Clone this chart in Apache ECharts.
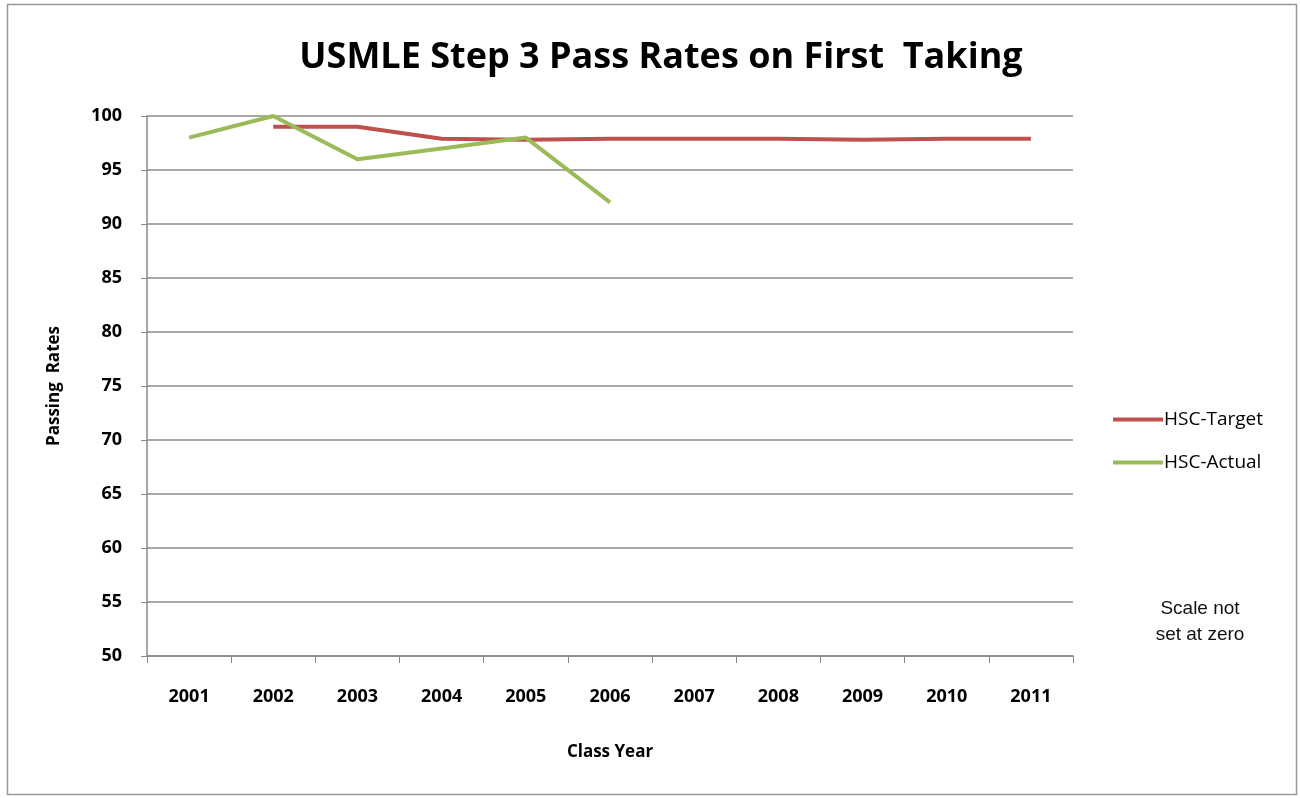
<!DOCTYPE html>
<html><head><meta charset="utf-8">
<script src="https://cdn.jsdelivr.net/npm/echarts@6/dist/echarts.min.js"></script>
<style>html,body{margin:0;padding:0;background:#fff}#c{width:1300px;height:798px}</style>
</head><body><div id="c"></div>
<script>
const years = ['2001','2002','2003','2004','2005','2006','2007','2008','2009','2010','2011'];
const target = [null, 99, 99, 97.9, 97.8, 97.9, 97.9, 97.9, 97.8, 97.9, 97.9];
const actual = [98, 100, 96, 97, 98, 92, null, null, null, null, null];
const seriesNames = ['HSC-Target', 'HSC-Actual'];
const noteLines = ['Scale not', 'set at zero'];

const chart = echarts.init(document.getElementById('c'));
const F = '"Open Sans", "DejaVu Sans", sans-serif';
chart.setOption({
  animation: false,
  backgroundColor: '#fff',
  title: {
    text: 'USMLE Step 3 Pass Rates on First  Taking',
    left: 656, top: 35, textAlign: 'center',
    textStyle: {fontFamily: F, fontSize: 36, fontWeight: 'bold', color: '#000'}
  },
  legend: {
    orient: 'vertical', left: 1108, top: 405, itemGap: 24,
    itemWidth: 50, itemHeight: 4,
    icon: 'rect',
    textStyle: {fontFamily: F, fontSize: 19, color: '#000', padding: [0,0,0,-4]},
    data: seriesNames
  },
  grid: {left: 147, right: 227, top: 116, bottom: 142},
  xAxis: {
    type: 'category', data: years, boundaryGap: true,
    name: 'Class Year', nameLocation: 'middle', nameGap: 88,
    nameTextStyle: {fontFamily: F, fontSize: 17, fontWeight: 'bold', color: '#000'},
    axisLine: {lineStyle: {color: '#888', width: 1.5}},
    axisTick: {show: true, length: 7, lineStyle: {color: '#888'}},
    axisLabel: {fontFamily: F, fontSize: 18, fontWeight: 'bold', color: '#000', margin: 32}
  },
  yAxis: {
    type: 'value', min: 50, max: 100, interval: 5,
    name: 'Passing  Rates', nameLocation: 'middle', nameGap: 84, nameRotate: 90,
    nameTextStyle: {fontFamily: F, fontSize: 17, fontWeight: 'bold', color: '#000'},
    axisLine: {show: true, lineStyle: {color: '#888', width: 1.5}},
    axisTick: {show: true, length: 6, lineStyle: {color: '#888'}},
    axisLabel: {fontFamily: F, fontSize: 18, fontWeight: 'bold', color: '#000', margin: 25},
    splitLine: {lineStyle: {color: '#8c8c8c', width: 1.5}}
  },
  series: [
    {name: seriesNames[0], type: 'line', data: target, showSymbol: false, symbol: 'none',
     lineStyle: {color: '#C0504D', width: 4}, itemStyle: {color: '#C0504D'}},
    {name: seriesNames[1], type: 'line', data: actual, showSymbol: false, symbol: 'none',
     lineStyle: {color: '#9BBB59', width: 4}, itemStyle: {color: '#9BBB59'}}
  ],
  graphic: [
    {type: 'rect', shape: {x: 7.5, y: 4.5, width: 1289, height: 790}, silent: true,
     style: {fill: null, stroke: '#999', lineWidth: 1.5}},
    {type: 'text', x: 1200, y: 596, silent: true,
     style: {text: noteLines.join('\n'), align: 'center', textAlign: 'center', fontFamily: '"Liberation Sans", Arial, sans-serif',
             fontSize: 19, lineHeight: 26, fill: '#111'}}
  ]
});
</script></body></html>
